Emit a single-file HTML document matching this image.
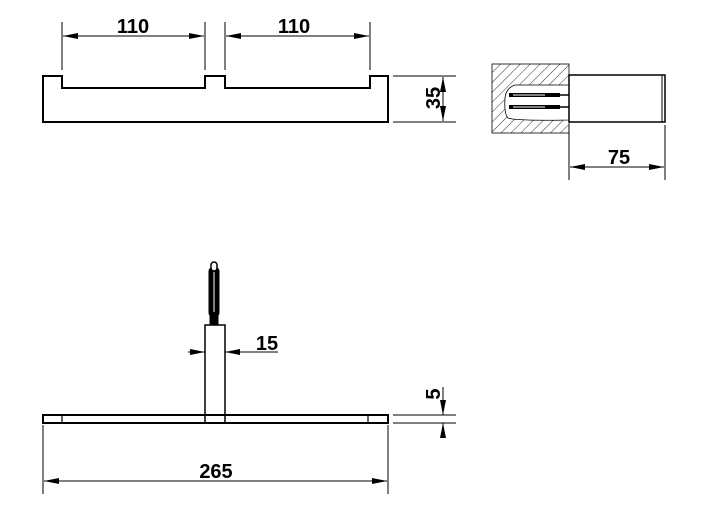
<!DOCTYPE html>
<html><head><style>body{margin:0;background:#fff}svg{display:block}text{font-family:"Liberation Sans",sans-serif;font-weight:bold;font-size:20px;fill:#000}</style></head><body>
<svg width="727" height="524" viewBox="0 0 727 524" xmlns="http://www.w3.org/2000/svg">
<defs>
<marker id="a" viewBox="0 0 15 6" refX="15" refY="3" markerWidth="15" markerHeight="6" orient="auto-start-reverse" markerUnits="userSpaceOnUse"><path d="M0,0L15,3L0,6z" fill="#000"/></marker>
<pattern id="h" width="7" height="7" patternUnits="userSpaceOnUse" patternTransform="rotate(45)"><line x1="0" y1="0" x2="0" y2="7" stroke="#000" stroke-width="0.8"/></pattern>
</defs>
<g fill="none" stroke="#000">
<path d="M43,76 H62 V88 H205 V76 H225 V88 H370 V76 H388 V122 H43 Z" stroke-width="2"/>
<g stroke-width="1">
<line x1="62" y1="22" x2="62" y2="70"/><line x1="205" y1="22" x2="205" y2="70"/>
<line x1="225" y1="22" x2="225" y2="70"/><line x1="370" y1="22" x2="370" y2="70"/>
<line x1="63" y1="36" x2="204" y2="36" marker-start="url(#a)" marker-end="url(#a)"/>
<line x1="226" y1="36" x2="369" y2="36" marker-start="url(#a)" marker-end="url(#a)"/>
<line x1="393" y1="76" x2="456" y2="76"/><line x1="393" y1="122" x2="456" y2="122"/>
<line x1="443" y1="77" x2="443" y2="121" marker-start="url(#a)" marker-end="url(#a)"/>
</g>
<rect x="492" y="64" width="77" height="69" fill="url(#h)" stroke-width="0.8"/>
<path d="M569,85 H515 Q506,88 505,98 Q504,114 508,118 Q515,121 569,120 Z" fill="#fff" stroke-width="0.8"/>
<g stroke-width="4"><line x1="509" y1="95" x2="560" y2="95"/><line x1="509" y1="107" x2="560" y2="107"/></g>
<g stroke-width="1.5"><line x1="555" y1="95" x2="569" y2="95"/><line x1="555" y1="107" x2="569" y2="107"/></g>
<g stroke="#fff" stroke-width="1"><line x1="513" y1="95" x2="545" y2="95"/><line x1="513" y1="107" x2="545" y2="107"/></g>
<rect x="569" y="75" width="96" height="47" fill="#fff" stroke-width="1.5"/>
<line x1="662" y1="75" x2="662" y2="122" stroke-width="1"/>
<g stroke-width="1">
<line x1="569" y1="125" x2="569" y2="180"/><line x1="665" y1="125" x2="665" y2="180"/>
<line x1="570" y1="167" x2="664" y2="167" marker-start="url(#a)" marker-end="url(#a)"/>
</g>
<rect x="43" y="415" width="345" height="8" stroke-width="2"/>
<line x1="62" y1="415" x2="62" y2="423" stroke-width="1.2"/><line x1="368" y1="415" x2="368" y2="423" stroke-width="1.2"/>
<rect x="205" y="325" width="20" height="98" stroke-width="1.5"/>
<rect x="209" y="268" width="10" height="48" fill="#000" rx="3"/>
<line x1="214" y1="272" x2="214" y2="312" stroke="#fff" stroke-width="1"/>
<rect x="211" y="262" width="6" height="9" rx="3" fill="#fff" stroke-width="1.5"/>
<rect x="210" y="316" width="8" height="9" fill="#000"/>
<g stroke-width="1">
<line x1="188" y1="352" x2="205" y2="352" marker-end="url(#a)"/>
<line x1="278" y1="352" x2="225" y2="352" marker-end="url(#a)"/>
<line x1="393" y1="415" x2="456" y2="415"/><line x1="393" y1="423" x2="456" y2="423"/>
<line x1="443" y1="387" x2="443" y2="415" marker-end="url(#a)"/>
<line x1="443" y1="437" x2="443" y2="423" marker-end="url(#a)"/>
<line x1="43" y1="425" x2="43" y2="494"/><line x1="388" y1="425" x2="388" y2="494"/>
<line x1="44" y1="481" x2="387" y2="481" marker-start="url(#a)" marker-end="url(#a)"/>
</g>
</g>
<text x="133" y="33" text-anchor="middle">110</text>
<text x="294" y="33" text-anchor="middle">110</text>
<text transform="translate(440,98) rotate(-90)" text-anchor="middle">35</text>
<text x="619" y="164" text-anchor="middle">75</text>
<text x="267" y="350" text-anchor="middle">15</text>
<text transform="translate(440,394) rotate(-90)" text-anchor="middle">5</text>
<text x="216" y="478" text-anchor="middle">265</text>
</svg>
</body></html>
